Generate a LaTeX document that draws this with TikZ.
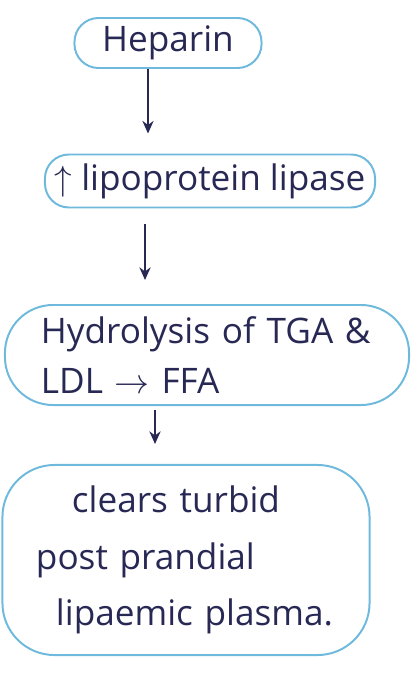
\documentclass[tikz,border=0pt]{standalone}
\usepackage{fontspec}
\setmainfont{Open Sans}
\usepackage{tikz}
\usetikzlibrary{positioning, arrows.meta, calc}
\definecolor{penblue}{RGB}{110, 185, 220}
\definecolor{inkblue}{RGB}{40, 40, 85}
\tikzset{
  % flow box
  flowbox/.style={
    rectangle, rounded corners=0.6cm,
    draw=penblue, line width=1.4pt,
    font=\fontsize{25pt}{36pt}\selectfont, text=inkblue, inner sep=0pt
  },
  % arrow style
  arr/.style={-{Stealth[length=9pt, width=8pt]}, line width=1.2pt, color=inkblue},
}
\begin{document}
\begin{tikzpicture}[x=0.025cm, y=-0.025cm]
  \useasboundingbox (0,0) rectangle (413,675);
  \node[flowbox, minimum width=4.675cm, minimum height=1.25cm] (hep) at (168,43) {Heparin};
  \node[flowbox, minimum width=8.25cm, minimum height=1.325cm] (lpl) at (210,181) {$\uparrow$ lipoprotein lipase};
  \node[flowbox, rounded corners=1.2cm, minimum width=10.1cm, minimum height=2.5cm,
        text width=8.3cm, align=left] (hyd) at (207,355) {Hydrolysis of TGA \&\\LDL $\rightarrow$ FFA};
  \node[flowbox, rounded corners=1.3cm, minimum width=9.175cm, minimum height=4.75cm,
        text width=7.5cm, align=left, font=\fontsize{25pt}{40pt}\selectfont] (clr) at (186,560)
        {\hspace*{0.9cm}clears turbid\\post prandial\\\hspace*{0.5cm}lipaemic plasma.};
  \coordinate (ax1) at (148,0);
  \coordinate (ax2) at (145,0);
  \coordinate (ax3) at (155,0);
  \draw[arr, shorten >=0.5cm] (hep.south -| ax1) -- (lpl.north -| ax1);
  \draw[arr, shorten <=0.4cm, shorten >=0.6cm] (lpl.south -| ax2) -- (hyd.north -| ax2);
  \draw[arr, shorten <=0.1cm, shorten >=0.5cm] (hyd.south -| ax3) -- (clr.north -| ax3);
\end{tikzpicture}
\end{document}
